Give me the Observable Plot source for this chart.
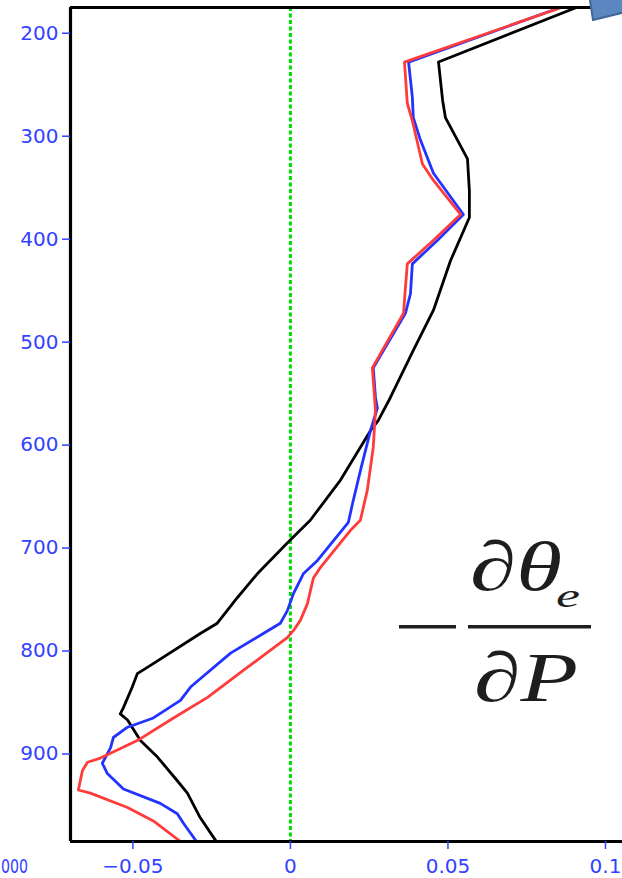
<!DOCTYPE html>
<html><head><meta charset="utf-8">
<script src="https://cdn.jsdelivr.net/npm/d3@7"></script>
<script src="https://cdn.jsdelivr.net/npm/@observablehq/plot@0.6"></script>
<style>
body{margin:0;background:#fff;overflow:hidden}
#wrap{position:relative;width:622px;height:878px;overflow:hidden;background:#fff}
#wrap svg{display:block}
.ov{position:absolute;left:0;top:0;pointer-events:none}
</style>
</head><body><div id="wrap"></div>
<script>
// ---- data (pressure in hPa, value of -dθe/dP) ----
const blackP = [175, 228, 265, 282, 322, 353, 379, 421, 469, 508, 554, 576, 586, 634, 673, 695, 725, 748, 773, 783, 814, 822, 835, 855, 861, 867, 887, 903, 926, 938, 962, 981, 985];
const blackV = [0.0908, 0.0470, 0.0483, 0.0492, 0.0562, 0.0568, 0.0568, 0.0508, 0.0454, 0.0390, 0.0317, 0.0279, 0.0254, 0.0159, 0.0063, -0.0010, -0.0105, -0.0168, -0.0232, -0.0286, -0.0444, -0.0486, -0.0502, -0.0530, -0.0540, -0.0517, -0.0476, -0.0422, -0.0359, -0.0327, -0.0286, -0.0244, -0.0235];

const blueP = [175, 228, 262, 282, 304, 336, 376, 401, 424, 453, 472, 525, 554, 564, 586, 625, 657, 675, 712, 725, 744, 761, 773, 783, 802, 835, 848, 865, 874, 884, 894, 909, 919, 934, 948, 958, 967, 985];
const blueV = [0.0857, 0.0375, 0.0387, 0.0390, 0.0413, 0.0454, 0.0549, 0.0467, 0.0387, 0.0381, 0.0365, 0.0263, 0.0270, 0.0276, 0.0254, 0.0222, 0.0197, 0.0184, 0.0086, 0.0041, 0.0010, -0.0010, -0.0032, -0.0086, -0.0190, -0.0317, -0.0349, -0.0435, -0.0517, -0.0562, -0.0571, -0.0597, -0.0581, -0.0530, -0.0413, -0.0359, -0.0340, -0.0298];

const redP = [175, 228, 268, 285, 327, 343, 376, 401, 424, 447, 472, 525, 554, 566, 602, 644, 673, 683, 719, 729, 754, 770, 780, 787, 816, 845, 865, 887, 904, 908, 916, 926, 935, 938, 952, 965, 985];
const redV = [0.0860, 0.0362, 0.0371, 0.0387, 0.0419, 0.0454, 0.0540, 0.0454, 0.0371, 0.0365, 0.0359, 0.0260, 0.0267, 0.0270, 0.0263, 0.0244, 0.0222, 0.0190, 0.0095, 0.0073, 0.0054, 0.0032, 0.0010, -0.0010, -0.0137, -0.0263, -0.0371, -0.0486, -0.0603, -0.0644, -0.0660, -0.0667, -0.0673, -0.0635, -0.0517, -0.0435, -0.0349];

const xTicks = [-0.05, 0, 0.05, 0.1];
const xTickLabels = ["−0.05", "0", "0.05", "0.1"];
const yTicks = [200, 300, 400, 500, 600, 700, 800, 900];
const xDomain = [-0.0698, 0.1054];
const yDomain = [175, 985];

const rows = (P, V) => P.map((p, i) => ({p, v: V[i]}));
const black = rows(blackP, blackV);
const blue = rows(blueP, blueV);
const red = rows(redP, redV);

const tickBlue = "#3242ff";

const chart = Plot.plot({
  width: 622, height: 878,
  marginLeft: 70, marginRight: 0, marginTop: 7, marginBottom: 37,
  style: {fontFamily: "'DejaVu Sans', sans-serif", fontSize: "20px", background: "#fff"},
  x: {domain: xDomain, label: null},
  y: {domain: yDomain, reverse: true, label: null},
  marks: [
    Plot.ruleX([0], {stroke: "#00dd00", strokeWidth: 3, strokeDasharray: "4,2.5"}),
    Plot.line(black, {x: "v", y: "p", stroke: "#000", strokeWidth: 2.8, clip: true}),
    Plot.line(blue, {x: "v", y: "p", stroke: "#2233ff", strokeWidth: 2.8, clip: true}),
    Plot.line(red, {x: "v", y: "p", stroke: "#ff3b3b", strokeWidth: 2.8, clip: true}),
    Plot.ruleX([xDomain[0]], {stroke: "#000", strokeWidth: 3.2}),
    Plot.ruleY(yDomain, {stroke: "#000", strokeWidth: 3.2}),
    Plot.axisX({ticks: xTicks, tickFormat: d => xTickLabels[xTicks.indexOf(d)], tickSize: 8, tickPadding: 9, color: tickBlue, strokeWidth: 1.5, label: null}),
    Plot.axisY({ticks: yTicks, tickFormat: d => String(d), tickSize: 8, tickPadding: 4, color: tickBlue, strokeWidth: 1.5, label: null})
  ]
});
const wrap = document.getElementById("wrap");
wrap.appendChild(chart);

// ---- overlay: formula label, cut-off neighbour label, corner shape ----
const ov = d3.select(wrap).append("svg").attr("class", "ov").attr("width", 622).attr("height", 878);
const ink = "#1e1e1e";
const serif = "'Liberation Serif', 'DejaVu Serif', serif";
ov.append("rect").attr("x", 399).attr("y", 625).attr("width", 57).attr("height", 3.5).attr("fill", ink);
ov.append("rect").attr("x", 468).attr("y", 625).attr("width", 123).attr("height", 3.5).attr("fill", ink);
ov.append("text").attr("x", 470).attr("y", 590).attr("font-family", serif).attr("font-style", "italic")
  .attr("font-size", 70).attr("fill", ink).attr("textLength", 92).attr("lengthAdjust", "spacingAndGlyphs").text("∂θ");
ov.append("text").attr("x", 556).attr("y", 607).attr("font-family", serif).attr("font-style", "italic")
  .attr("font-size", 34).attr("fill", ink).attr("textLength", 24).attr("lengthAdjust", "spacingAndGlyphs").text("e");
ov.append("text").attr("x", 474).attr("y", 701).attr("font-family", serif).attr("font-style", "italic")
  .attr("font-size", 70).attr("fill", ink).attr("textLength", 104).attr("lengthAdjust", "spacingAndGlyphs").text("∂P");
ov.append("text").attr("x", 1).attr("y", 873).attr("text-anchor", "start")
  .attr("font-family", "'DejaVu Sans', sans-serif").attr("font-size", 20).attr("fill", tickBlue)
  .attr("textLength", 27).attr("lengthAdjust", "spacingAndGlyphs").text("000");
ov.append("polygon").attr("points", "589,-6 593,20 642,8 637,-18")
  .attr("fill", "#5b87c0").attr("stroke", "#3f6899").attr("stroke-width", 2);
</script>
</body></html>
